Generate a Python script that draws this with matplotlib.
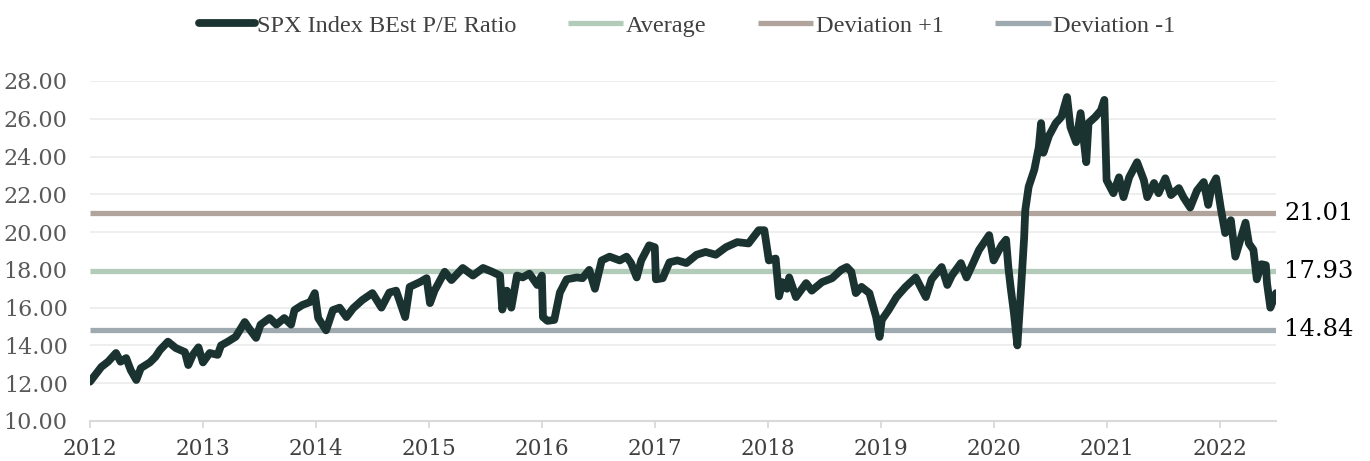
import matplotlib.pyplot as plt
import matplotlib.transforms as mtransforms

# SPX Index BEst P/E Ratio (decimal years)
dates = [2012.00, 2012.10, 2012.16, 2012.23, 2012.27, 2012.32, 2012.36, 2012.41, 2012.45, 2012.53,
         2012.58, 2012.62, 2012.69, 2012.76, 2012.84, 2012.87, 2012.91, 2012.96, 2013.00, 2013.06,
         2013.13, 2013.16, 2013.22, 2013.29, 2013.37, 2013.42, 2013.47, 2013.51, 2013.59, 2013.65,
         2013.72, 2013.78, 2013.81, 2013.88, 2013.95, 2013.99, 2014.02, 2014.09, 2014.15, 2014.21,
         2014.27, 2014.33, 2014.41, 2014.50, 2014.58, 2014.65, 2014.71, 2014.79, 2014.83, 2014.92,
         2014.98, 2015.01, 2015.05, 2015.14, 2015.20, 2015.30, 2015.39, 2015.48, 2015.56, 2015.63,
         2015.65, 2015.69, 2015.73, 2015.78, 2015.83, 2015.89, 2015.96, 2016.00, 2016.01, 2016.05,
         2016.11, 2016.16, 2016.22, 2016.31, 2016.36, 2016.42, 2016.47, 2016.53, 2016.60, 2016.69,
         2016.75, 2016.79, 2016.84, 2016.88, 2016.95, 2017.00, 2017.01, 2017.07, 2017.13, 2017.20,
         2017.28, 2017.37, 2017.45, 2017.54, 2017.63, 2017.73, 2017.83, 2017.92, 2017.97, 2018.01,
         2018.07, 2018.10, 2018.13, 2018.17, 2018.19, 2018.25, 2018.34, 2018.39, 2018.48, 2018.57,
         2018.65, 2018.70, 2018.74, 2018.78, 2018.83, 2018.90, 2018.96, 2018.99, 2019.01, 2019.07,
         2019.14, 2019.22, 2019.31, 2019.40, 2019.45, 2019.54, 2019.59, 2019.63, 2019.71, 2019.76,
         2019.81, 2019.87, 2019.96, 2020.00, 2020.07, 2020.11, 2020.13, 2020.15, 2020.18, 2020.21,
         2020.24, 2020.27, 2020.28, 2020.31, 2020.36, 2020.40, 2020.42, 2020.44, 2020.49, 2020.55,
         2020.60, 2020.65, 2020.68, 2020.73, 2020.77, 2020.82, 2020.84, 2020.90, 2020.95, 2020.98,
         2021.00, 2021.06, 2021.11, 2021.15, 2021.20, 2021.27, 2021.33, 2021.36, 2021.42, 2021.46,
         2021.52, 2021.57, 2021.64, 2021.68, 2021.74, 2021.80, 2021.86, 2021.90, 2021.93, 2021.97,
         2022.01, 2022.05, 2022.10, 2022.14, 2022.19, 2022.23, 2022.26, 2022.30, 2022.33, 2022.37,
         2022.41, 2022.42, 2022.45, 2022.50]
pe_ratio = [12.08, 12.86, 13.14, 13.60, 13.14, 13.33, 12.70, 12.17, 12.80, 13.10,
            13.40, 13.76, 14.20, 13.86, 13.65, 12.96, 13.50, 13.90, 13.10, 13.60,
            13.50, 14.00, 14.20, 14.46, 15.24, 14.80, 14.40, 15.10, 15.45, 15.10,
            15.45, 15.10, 15.87, 16.14, 16.30, 16.77, 15.45, 14.80, 15.87, 16.00,
            15.50, 15.97, 16.40, 16.77, 16.00, 16.80, 16.90, 15.50, 17.10, 17.35,
            17.56, 16.24, 16.90, 17.90, 17.46, 18.10, 17.70, 18.10, 17.90, 17.70,
            15.90, 16.90, 16.00, 17.70, 17.60, 17.80, 17.20, 17.70, 15.50, 15.30,
            15.35, 16.80, 17.50, 17.60, 17.56, 18.00, 17.00, 18.50, 18.70, 18.50,
            18.70, 18.36, 17.60, 18.50, 19.30, 19.20, 17.50, 17.56, 18.40, 18.50,
            18.36, 18.80, 18.95, 18.80, 19.20, 19.47, 19.40, 20.10, 20.10, 18.50,
            18.60, 16.60, 17.35, 17.00, 17.60, 16.56, 17.30, 16.90, 17.35, 17.56,
            18.00, 18.15, 17.90, 16.77, 17.10, 16.77, 15.50, 14.45, 15.35, 15.87,
            16.56, 17.10, 17.60, 16.56, 17.50, 18.15, 17.20, 17.70, 18.36, 17.60,
            18.25, 19.05, 19.84, 18.50, 19.30, 19.60, 18.15, 17.10, 15.70, 14.00,
            16.77, 19.70, 21.16, 22.40, 23.30, 24.50, 25.77, 24.20, 25.10, 25.77,
            26.10, 27.15, 25.56, 24.76, 26.30, 23.70, 25.77, 26.10, 26.45, 27.00,
            22.75, 22.06, 22.90, 21.85, 22.90, 23.70, 22.75, 21.85, 22.60, 22.06,
            22.85, 21.96, 22.33, 21.85, 21.30, 22.20, 22.65, 21.44, 22.40, 22.85,
            21.30, 19.95, 20.63, 18.70, 19.70, 20.50, 19.40, 19.06, 17.50, 18.30,
            18.25, 17.30, 16.00, 16.77]

average = 17.93
dev_plus = 21.01
dev_minus = 14.84

year_ticks = list(range(2012, 2023))
y_ticks = [10, 12, 14, 16, 18, 20, 22, 24, 26, 28]

fig = plt.figure(figsize=(13.7, 4.61), dpi=100)
ax = fig.add_axes([0.0657, 0.0868, 0.8657, 0.7375])

x_start, x_end = 2012.0, 2022.5

ax.plot([x_start, x_end], [dev_plus, dev_plus], color='#b0a49d', lw=3.8,
        solid_capstyle='butt', label='Deviation +1', zorder=2)
ax.plot([x_start, x_end], [average, average], color='#b3cbb9', lw=3.8,
        solid_capstyle='butt', label='Average', zorder=2)
ax.plot([x_start, x_end], [dev_minus, dev_minus], color='#9eaab0', lw=3.8,
        solid_capstyle='butt', label='Deviation -1', zorder=2)
ax.plot(dates, pe_ratio, color='#1b3330', lw=5.6, solid_joinstyle='round',
        solid_capstyle='round', label='SPX Index BEst P/E Ratio', zorder=3)

ax.set_xlim(x_start, x_end)
ax.set_ylim(10, 28)
ax.set_xticks(year_ticks)
ax.set_xticklabels([str(y) for y in year_ticks])
ax.set_yticks(y_ticks)
ax.set_yticklabels([f'{v:.2f}' for v in y_ticks])

ax.grid(axis='y', color='#ebebeb', lw=1.2, zorder=0)
for side in ['top', 'right', 'left']:
    ax.spines[side].set_visible(False)
ax.spines['bottom'].set_color('#d9d9d9')
ax.spines['bottom'].set_linewidth(1.5)
ax.tick_params(axis='x', direction='out', length=5, width=1.3, color='#d9d9d9',
               labelsize=15.5, labelcolor='#404040', pad=7)
ax.tick_params(axis='y', length=0, labelsize=16, labelcolor='#595959', pad=16)
for lab in ax.get_xticklabels() + ax.get_yticklabels():
    lab.set_fontfamily('DejaVu Serif')

# values at the right end of the reference lines
trans = mtransforms.blended_transform_factory(ax.transAxes, ax.transData)
for v in [dev_plus, average, dev_minus]:
    ax.text(1.007, v, f'{v:.2f}', transform=trans, ha='left', va='center',
            fontsize=17.5, color='black', family='DejaVu Serif')

handles, labels = ax.get_legend_handles_labels()
order = [3, 1, 0, 2]
fig.legend([handles[i] for i in order], [labels[i] for i in order],
           loc='center', bbox_to_anchor=(0.5015, 0.944), ncol=4, frameon=False,
           prop={'family': 'Liberation Serif', 'size': 17.5}, labelcolor='#404040',
           handlelength=2.3, handletextpad=0.1, columnspacing=2.1)

plt.savefig('out.png', dpi=100)
